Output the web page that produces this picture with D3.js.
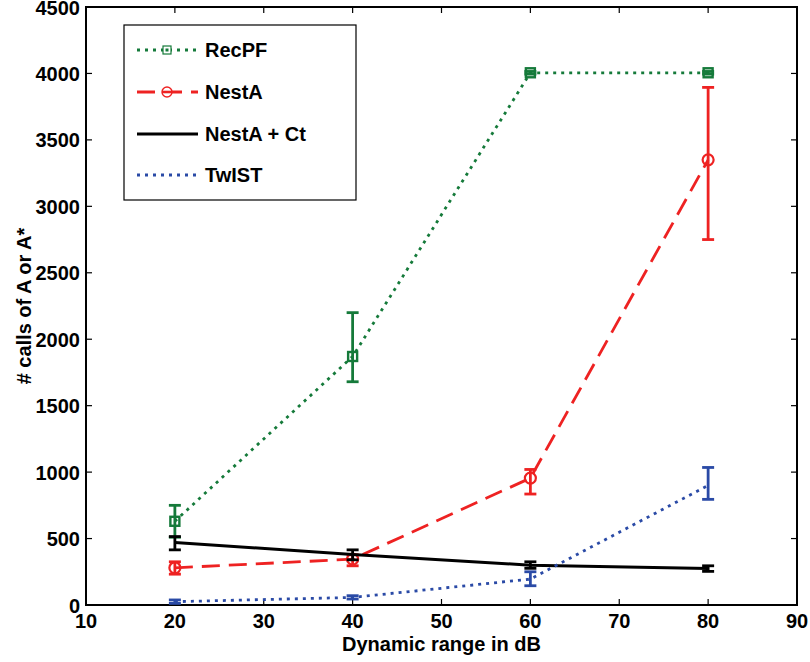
<!DOCTYPE html>
<html>
<head>
<meta charset="utf-8">
<script src="https://cdn.jsdelivr.net/npm/d3@7"></script>
<style>
  html, body { margin: 0; padding: 0; background: #fff; }
  svg { display: block; font-family: "Liberation Sans", Arial, Helvetica, sans-serif; font-weight: bold; }
</style>
</head>
<body>
<svg id="chart" width="810" height="662"></svg>
<script>
// Dynamic range (dB) on the x axis
const ranges = [20, 40, 60, 80];

// Mean number of calls of A or A* with lower / upper error-bar ends
const recpf      = [630, 1870, 4005, 4005];
const recpfLo    = [510, 1680, 3995, 3995];
const recpfHi    = [750, 2200, 4015, 4015];

const nesta      = [280, 345, 955, 3350];
const nestaLo    = [232, 295, 835, 2750];
const nestaHi    = [325, 378, 1020, 3895];

const nestaCt    = [470, 380, 300, 275];
const nestaCtLo  = [415, 340, 276, 253];
const nestaCtHi  = [515, 415, 325, 295];

const twist      = [25, 57, 195, 900];
const twistLo    = [12, 45, 145, 795];
const twistHi    = [38, 70, 250, 1035];

const xTicks = [10, 20, 30, 40, 50, 60, 70, 80, 90];
const yTicks = [0, 500, 1000, 1500, 2000, 2500, 3000, 3500, 4000, 4500];

const seriesNames = ["RecPF", "NestA", "NestA + Ct", "TwIST"];

const series = [
  { name: seriesNames[0], y: recpf,   lo: recpfLo,   hi: recpfHi,   color: "#157a3a", dash: "3,5",  width: 2.8, marker: "square" },
  { name: seriesNames[1], y: nesta,   lo: nestaLo,   hi: nestaHi,   color: "#ee2222", dash: "18,9", width: 2.8, marker: "circle" },
  { name: seriesNames[2], y: nestaCt, lo: nestaCtLo, hi: nestaCtHi, color: "#000000", dash: null,   width: 3,   marker: null },
  { name: seriesNames[3], y: twist,   lo: twistLo,   hi: twistHi,   color: "#2a4aa6", dash: "3,5",  width: 2.8, marker: null }
];

const svg = d3.select("#chart");
const m = { left: 86, right: 797, top: 7, bottom: 605 };

const x = d3.scaleLinear().domain([10, 90]).range([m.left, m.right]);
const y = d3.scaleLinear().domain([0, 4500]).range([m.bottom, m.top]);

// Frame with inward ticks on all four sides
const axes = svg.append("g").attr("stroke", "#000").attr("stroke-width", 1.2);
const tickLen = 6;
xTicks.forEach(t => {
  axes.append("line").attr("x1", x(t)).attr("x2", x(t)).attr("y1", m.bottom).attr("y2", m.bottom - tickLen);
  axes.append("line").attr("x1", x(t)).attr("x2", x(t)).attr("y1", m.top).attr("y2", m.top + tickLen);
});
yTicks.forEach(t => {
  axes.append("line").attr("x1", m.left).attr("x2", m.left + tickLen).attr("y1", y(t)).attr("y2", y(t));
  axes.append("line").attr("x1", m.right).attr("x2", m.right - tickLen).attr("y1", y(t)).attr("y2", y(t));
});
svg.append("rect")
  .attr("x", m.left).attr("y", m.top)
  .attr("width", m.right - m.left).attr("height", m.bottom - m.top)
  .attr("fill", "none").attr("stroke", "#000").attr("stroke-width", 2);

// Tick labels
svg.append("g").selectAll("text").data(xTicks).join("text")
  .attr("x", d => x(d)).attr("y", 628)
  .attr("text-anchor", "middle").attr("font-size", 20)
  .text(d => d);
svg.append("g").selectAll("text").data(yTicks).join("text")
  .attr("x", 80).attr("y", d => Math.max(y(d) + 7.5, 15))
  .attr("text-anchor", "end").attr("font-size", 20)
  .text(d => d);

// Axis titles
svg.append("text")
  .attr("x", x(50)).attr("y", 651)
  .attr("text-anchor", "middle").attr("font-size", 20)
  .text("Dynamic range in dB");
svg.append("text")
  .attr("transform", `translate(31, ${y(2250)}) rotate(-90)`)
  .attr("text-anchor", "middle").attr("font-size", 20)
  .text("# calls of A or A*");

// Series lines, error bars and markers
const line = d3.line().x(d => x(d[0])).y(d => y(d[1]));
const capHalf = 6;

series.forEach(s => {
  const g = svg.append("g");
  const pts = ranges.map((r, i) => [r, s.y[i]]);
  g.append("path")
    .attr("d", line(pts))
    .attr("fill", "none")
    .attr("stroke", s.color)
    .attr("stroke-width", s.width)
    .attr("stroke-dasharray", s.dash);

  ranges.forEach((r, i) => {
    const cx = x(r);
    const eb = g.append("g").attr("stroke", s.color).attr("stroke-width", 2.8);
    eb.append("line").attr("x1", cx).attr("x2", cx).attr("y1", y(s.lo[i])).attr("y2", y(s.hi[i]));
    eb.append("line").attr("x1", cx - capHalf).attr("x2", cx + capHalf).attr("y1", y(s.lo[i])).attr("y2", y(s.lo[i]));
    eb.append("line").attr("x1", cx - capHalf).attr("x2", cx + capHalf).attr("y1", y(s.hi[i])).attr("y2", y(s.hi[i]));

    if (s.marker === "square") {
      g.append("rect")
        .attr("x", cx - 4.5).attr("y", y(s.y[i]) - 4.5)
        .attr("width", 9).attr("height", 9)
        .attr("fill", "none").attr("stroke", s.color).attr("stroke-width", 2.4);
    } else if (s.marker === "circle") {
      g.append("circle")
        .attr("cx", cx).attr("cy", y(s.y[i])).attr("r", 5.5)
        .attr("fill", "none").attr("stroke", s.color).attr("stroke-width", 2.2);
    }
  });
});

// Legend
const lg = svg.append("g");
lg.append("rect")
  .attr("x", 124).attr("y", 25).attr("width", 232).attr("height", 175)
  .attr("fill", "#fff").attr("stroke", "#000").attr("stroke-width", 1.2);
const rowY = [50, 92, 134, 175];
series.forEach((s, i) => {
  const ly = rowY[i];
  lg.append("line")
    .attr("x1", 137).attr("x2", 198).attr("y1", ly).attr("y2", ly)
    .attr("stroke", s.color).attr("stroke-width", s.width)
    .attr("stroke-dasharray", s.dash);
  if (s.marker === "square") {
    lg.append("rect").attr("x", 163).attr("y", ly - 4).attr("width", 8).attr("height", 8)
      .attr("fill", "#fff").attr("stroke", s.color).attr("stroke-width", 1.2);
    lg.append("rect").attr("x", 165.5).attr("y", ly - 1.5).attr("width", 3).attr("height", 3)
      .attr("fill", s.color);
  } else if (s.marker === "circle") {
    lg.append("circle").attr("cx", 167).attr("cy", ly).attr("r", 5)
      .attr("fill", "#fff").attr("stroke", s.color).attr("stroke-width", 1.4);
    lg.append("line").attr("x1", 162).attr("x2", 172).attr("y1", ly).attr("y2", ly)
      .attr("stroke", s.color).attr("stroke-width", 2.6);
  }
  lg.append("text")
    .attr("x", 205).attr("y", ly + 7)
    .attr("font-size", 20)
    .text(s.name);
});
</script>
</body>
</html>
